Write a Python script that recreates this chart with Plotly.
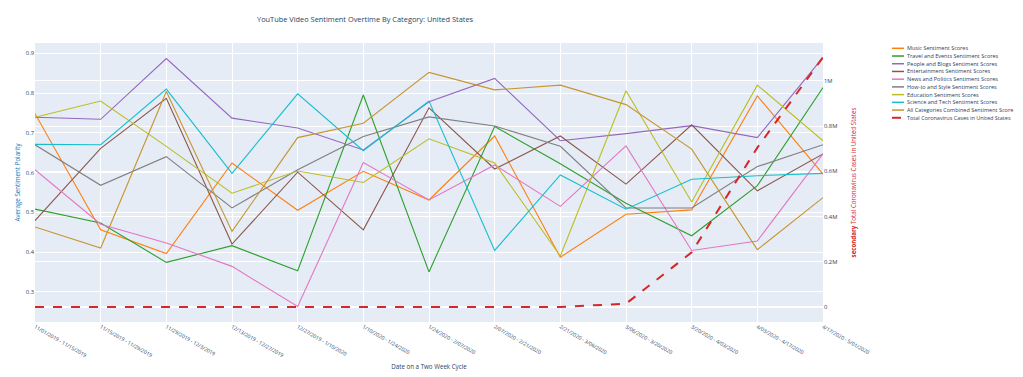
import plotly.graph_objects as go

periods = [
    "11/01/2019 - 11/15/2019", "11/15/2019 - 11/29/2019", "11/29/2019 - 12/3/2019",
    "12/13/2019 - 12/27/2019", "12/27/2019 - 1/10/2020", "1/10/2020 - 1/24/2020",
    "1/24/2020 - 2/07/2020", "2/07/2020 - 2/21/2020", "2/21/2020 - 3/06/2020",
    "3/06/2020 - 3/20/2020", "3/20/2020 - 4/03/2020", "4/03/2020 - 4/17/2020",
    "4/17/2020 - 5/01/2020",
]

music = [0.748, 0.456, 0.396, 0.624, 0.505, 0.603, 0.531, 0.692, 0.387, 0.495, 0.506, 0.793, 0.596]
travel = [0.508, 0.473, 0.374, 0.416, 0.353, 0.795, 0.350, 0.716, 0.622, 0.523, 0.441, 0.567, 0.814]
people = [0.739, 0.734, 0.887, 0.737, 0.712, 0.657, 0.778, 0.837, 0.680, 0.698, 0.718, 0.688, 0.890]
entertainment = [0.479, 0.661, 0.787, 0.420, 0.601, 0.456, 0.763, 0.609, 0.692, 0.571, 0.720, 0.554, 0.647]
news = [0.607, 0.470, 0.423, 0.364, 0.263, 0.625, 0.531, 0.619, 0.515, 0.667, 0.404, 0.428, 0.647]
howto = [0.670, 0.568, 0.640, 0.511, 0.607, 0.691, 0.740, 0.717, 0.666, 0.511, 0.511, 0.615, 0.670]
education = [0.739, 0.780, 0.666, 0.548, 0.604, 0.575, 0.685, 0.624, 0.390, 0.806, 0.526, 0.820, 0.680]
science = [0.671, 0.670, 0.810, 0.598, 0.798, 0.655, 0.780, 0.404, 0.594, 0.508, 0.583, 0.592, 0.598]
all_categories = [0.463, 0.410, 0.804, 0.452, 0.688, 0.724, 0.852, 0.808, 0.820, 0.771, 0.659, 0.406, 0.537]
cases = [0, 0, 0, 0, 0, 0, 2, 12, 300, 15000, 242000, 705000, 1105000]

series_names = [
    "Music Sentiment Scores", "Travel and Events Sentiment Scores",
    "People and Blogs Sentiment Scores", "Entertainment Sentiment Scores",
    "News and Politics Sentiment Scores", "How-to and Style Sentiment Scores",
    "Education Sentiment Scores", "Science and Tech Sentiment Scores",
    "All Categories Combined Sentiment Score",
]
cases_name = "Total Coronavirus Cases in United States"

series_values = [music, travel, people, entertainment, news, howto, education, science, all_categories]
colors = ["#ff7f0e", "#2ca02c", "#9467bd", "#8c564b", "#e377c2", "#7f7f7f",
          "#bcbd22", "#17becf", "#c7952f"]
red = "#d62728"

fig = go.Figure()
for name, vals, col in zip(series_names, series_values, colors):
    fig.add_trace(go.Scatter(x=periods, y=vals, name=name, mode="lines",
                             line=dict(color=col, width=1.1), showlegend=False))
fig.add_trace(go.Scatter(x=periods, y=cases, name=cases_name, mode="lines",
                         line=dict(color=red, width=2, dash="dash"),
                         yaxis="y2", showlegend=False))

# page body adds an 8px offset, so figure coords = screenshot coords - 8
OFF = 8
W, H = 1023, 377
L, T = 35 - OFF, 43 - OFF
pw, ph = 788, 279
R, B = W - L - pw, H - T - ph

def px_x(X):
    return (X - OFF - L) / pw
def px_y(Y):
    return (T + ph - (Y - OFF)) / ph

# compact legend drawn with shapes and annotations
leg_names = series_names + [cases_name]
leg_colors = colors + [red]
for i, (nm, col) in enumerate(zip(leg_names, leg_colors)):
    Y = 48.3 + 7.72 * i
    dash = "dash" if nm == cases_name else "solid"
    fig.add_shape(type="line", xref="paper", yref="paper",
                  x0=px_x(892), x1=px_x(904), y0=px_y(Y), y1=px_y(Y),
                  line=dict(color=col, width=2 if dash == "dash" else 1.5, dash=dash))
    fig.add_annotation(xref="paper", yref="paper", x=px_x(905), y=px_y(Y),
                       xanchor="left", yanchor="middle", text=nm, showarrow=False,
                       font=dict(size=5.5, color="#2a3f5f"))

fig.update_layout(
    template="plotly",
    width=W, height=H,
    margin=dict(l=L, r=R, t=T, b=B, autoexpand=False),
    showlegend=False,
    font=dict(family="Open Sans, verdana, arial, sans-serif", size=6, color="#2a3f5f"),
    title=dict(text="YouTube Video Sentiment Overtime By Category: United States",
               x=(257 - OFF) / W, xanchor="left", y=1 - (19 - OFF) / H, yanchor="middle",
               font=dict(size=7.4, color="#2a3f5f")),
    xaxis=dict(title=dict(text="Date on a Two Week Cycle", font=dict(size=6.2), standoff=6),
               tickangle=30, tickfont=dict(size=5.2), range=[0, 12], type="category",
               automargin=False),
    yaxis=dict(title=dict(text="Average Sentiment Polarity", font=dict(size=6.2, color="#1f77b4"), standoff=4),
               range=[0.224, 0.926], dtick=0.1, tick0=0.3, tickfont=dict(size=5.8),
               automargin=False),
    yaxis2=dict(title=dict(text="<b>secondary</b> Total Coronavirus Cases in United States",
                           font=dict(size=6.2, color=red)),
                overlaying="y", side="right", range=[-66000, 1168000], dtick=200000,
                tick0=0, tickfont=dict(size=5.8), showgrid=True, gridcolor="white",
                automargin=False),
)

fig.write_html("out.html")
